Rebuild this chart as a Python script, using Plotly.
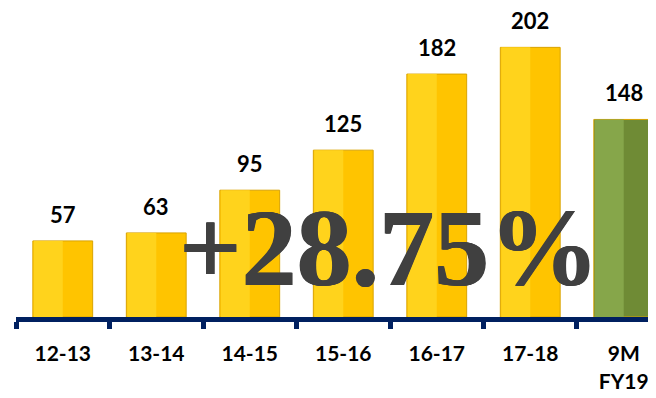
import plotly.graph_objects as go

categories = ["12-13", "13-14", "14-15", "15-16", "16-17", "17-18", "9M FY19"]
tick_labels = ["12-13", "13-14", "14-15", "15-16", "16-17", "17-18", "9M<br>FY19"]
values = [57, 63, 95, 125, 182, 202, 148]
bar_colors = ["#FFC400"] * 6 + ["#6F8B35"]
left_colors = ["#FFD31C"] * 6 + ["#86A64A"]
growth_text = "<b>+28.75%</b>"

fig = go.Figure()
# base bars
fig.add_trace(go.Bar(
    x=categories, y=values, width=0.64,
    marker=dict(color=bar_colors, line=dict(color="#D9A300", width=1)),
    hoverinfo="skip", showlegend=False,
))
# lighter left half for a bevelled look
fig.add_trace(go.Bar(
    x=categories, y=values, width=0.31, offset=-0.31,
    marker=dict(color=left_colors, line=dict(width=0)),
    hoverinfo="skip", showlegend=False,
))

for c, v in zip(categories, values):
    fig.add_annotation(x=c, y=v, text=str(v), showarrow=False,
                       yanchor="bottom", yshift=11,
                       font=dict(family="Lato", size=22, color="#000000", weight="bold"))

fig.add_annotation(xref="paper", yref="paper", x=0.583, y=0.225,
                   text=growth_text, showarrow=False, xanchor="center", yanchor="middle",
                   font=dict(family="Liberation Serif", size=110, color="#404040", weight="bold",
                             shadow="0.6px 0 0 #404040, -0.6px 0 0 #404040"))

fig.update_layout(
    width=648, height=390,
    margin=dict(l=8, r=0, t=2, b=81),
    paper_bgcolor="white", plot_bgcolor="white",
    barmode="overlay",
    xaxis=dict(
        type="category", categoryorder="array", categoryarray=categories,
        range=[-0.5, 6.345],
        tickvals=categories, ticktext=tick_labels,
        tickson="boundaries", ticks="outside", ticklen=7, tickwidth=5, tickcolor="#002060",
        ticklabelstandoff=14,
        showline=True, linecolor="#002060", linewidth=5,
        showgrid=False, zeroline=False,
        tickfont=dict(family="Lato", size=21, color="#000000", weight="bold"),
    ),
    yaxis=dict(range=[0, 230], visible=False, showgrid=False, zeroline=False),
)

fig.write_html("out.html")
